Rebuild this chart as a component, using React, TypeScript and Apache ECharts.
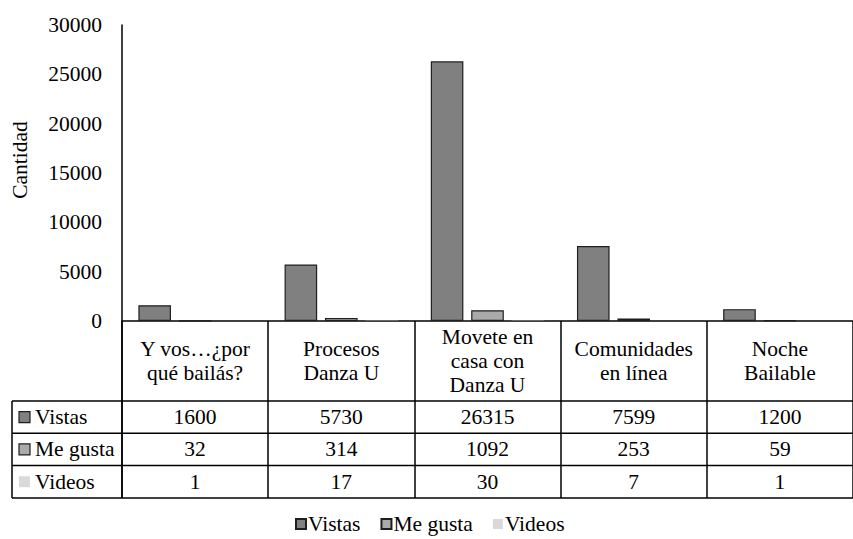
import React, { useEffect, useRef } from "react";
import * as echarts from "echarts";

const categories = [
  "Y vos…¿por\nqué bailás?",
  "Procesos\nDanza U",
  "Movete en\ncasa con\nDanza U",
  "Comunidades\nen línea",
  "Noche\nBailable",
];
const seriesNames = ["Vistas", "Me gusta", "Videos"];
const vistas = [1600, 5730, 26315, 7599, 1200];
const meGusta = [32, 314, 1092, 253, 59];
const videos = [1, 17, 30, 7, 1];
const yMin = 0;
const yMax = 30000;
const yInterval = 5000;
const axisTitle = "Cantidad";

const FONT = "Liberation Serif";
const FS = 21.5;
const fills = ["#808080", "#aaaaaa", "#d9d9d9"];
const borders = ["#1f1f1f", "#1f1f1f", "transparent"];
const HEADER_H = 80;
const ROW_H = 32.3;
const TABLE_LEFT = 12;

export default function App() {
  const ref = useRef<HTMLDivElement>(null);

  useEffect(() => {
    if (!ref.current) return;
    const chart = echarts.init(ref.current, null, { renderer: "svg" });
    const allData = [vistas, meGusta, videos];
    const tableH = HEADER_H + 3 * ROW_H;

    chart.setOption({
      animation: false,
      textStyle: { fontFamily: FONT },
      grid: { left: 122, right: -8, top: 25, bottom: 218, containLabel: false },
      legend: {
        data: seriesNames,
        left: 290,
        top: 508,
        icon: "rect",
        itemWidth: 10,
        itemHeight: 10,
        itemGap: 20,
        textStyle: { fontFamily: FONT, fontSize: FS, color: "#000", padding: [0, 0, 0, -3] },
      },
      xAxis: {
        type: "category",
        data: categories,
        axisLine: { show: true, lineStyle: { color: "#000", width: 1.5 } },
        axisTick: {
          show: true,
          length: tableH,
          inside: false,
          lineStyle: { color: "#000", width: 1.5 },
        },
        axisLabel: {
          interval: 0,
          margin: HEADER_H / 2,
          verticalAlign: "middle",
          fontFamily: FONT,
          fontSize: FS,
          lineHeight: 24,
          color: "#000",
        },
        splitLine: { show: false },
      },
      yAxis: {
        type: "value",
        min: yMin,
        max: yMax,
        interval: yInterval,
        axisLine: { show: true, lineStyle: { color: "#000", width: 1.5 } },
        axisTick: { show: false },
        splitLine: { show: false },
        axisLabel: {
          margin: 20,
          fontFamily: FONT,
          fontSize: FS,
          color: "#000",
          formatter: (v: number) => String(v),
        },
      },
      series: allData.map((d, i) => ({
        name: seriesNames[i],
        type: "bar",
        data: d,
        barWidth: "22.3%",
        barGap: "24%",
        itemStyle: {
          color: fills[i],
          borderColor: borders[i],
          borderWidth: i < 2 ? 1.2 : 0,
        },
      })),
    });

    const centers = categories.map((_, i) =>
      chart.convertToPixel({ xAxisIndex: 0 }, i) as number
    );
    const band = centers[1] - centers[0];
    const xLeft = centers[0] - band / 2;
    const xRight = centers[centers.length - 1] + band / 2;
    const y0 = chart.convertToPixel({ yAxisIndex: 0 }, yMin) as number;
    const rowTop = y0 + HEADER_H;

    const elements: any[] = [];
    for (let k = 0; k <= 3; k++) {
      const y = rowTop + k * ROW_H;
      elements.push({
        type: "line",
        shape: { x1: TABLE_LEFT, y1: y, x2: xRight, y2: y },
        style: { stroke: "#000", lineWidth: 1.5 },
      });
    }
    elements.push({
      type: "line",
      shape: { x1: TABLE_LEFT, y1: rowTop, x2: TABLE_LEFT, y2: rowTop + 3 * ROW_H },
      style: { stroke: "#000", lineWidth: 1.5 },
    });
    elements.push({
      type: "line",
      shape: { x1: xLeft, y1: y0, x2: xLeft, y2: rowTop + 3 * ROW_H },
      style: { stroke: "#000", lineWidth: 1.5 },
    });
    allData.forEach((d, r) => {
      const cy = rowTop + (r + 0.5) * ROW_H;
      elements.push({
        type: "rect",
        shape: { x: TABLE_LEFT + 7, y: cy - 5.5, width: 11, height: 11 },
        style: {
          fill: fills[r],
          stroke: r < 2 ? "#1f1f1f" : null,
          lineWidth: r < 2 ? 1.2 : 0,
        },
      });
      elements.push({
        type: "text",
        x: TABLE_LEFT + 23,
        y: cy,
        style: {
          text: seriesNames[r],
          fontFamily: FONT,
          fontSize: FS,
          fill: "#000",
          align: "left",
          verticalAlign: "middle",
        },
      });
      d.forEach((v, i) => {
        elements.push({
          type: "text",
          x: centers[i],
          y: cy,
          style: {
            text: String(v),
            fontFamily: FONT,
            fontSize: FS,
            fill: "#000",
            align: "center",
            verticalAlign: "middle",
          },
        });
      });
    });
    elements.push({
      type: "text",
      x: 20,
      y: 160,
      rotation: Math.PI / 2,
      style: {
        text: axisTitle,
        fontFamily: FONT,
        fontSize: FS,
        fill: "#000",
        align: "center",
        verticalAlign: "middle",
      },
    });

    chart.setOption({ graphic: { elements } });

    return () => chart.dispose();
  }, []);

  return (
    <div
      ref={ref}
      style={{ position: "fixed", left: 0, top: 0, width: 853, height: 539, background: "#fff" }}
    />
  );
}
